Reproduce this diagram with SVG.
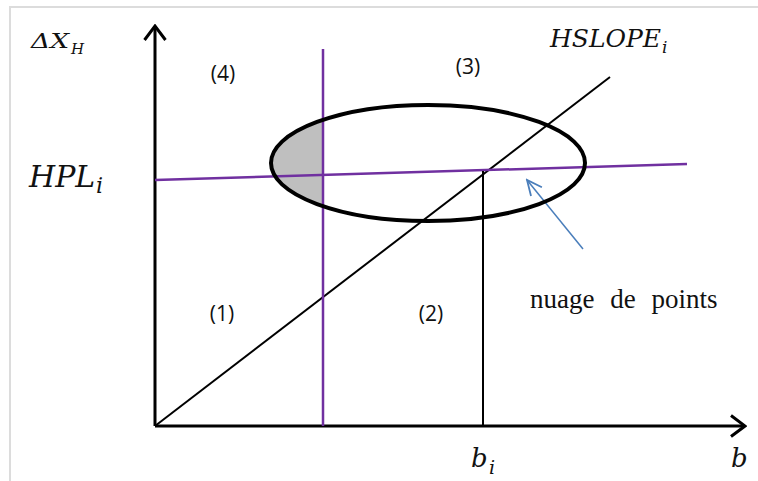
<svg xmlns="http://www.w3.org/2000/svg" width="758" height="481" viewBox="0 0 758 481">
<defs>
<style>
.ax{stroke:#000;stroke-width:3;fill:none}
.ln{stroke:#000;stroke-width:2;fill:none}
.pu{stroke:#7030a0;stroke-width:2.5;fill:none}
.m{font-family:"DejaVu Serif","Liberation Serif",serif;font-style:italic;fill:#111}
.lab{font-family:"Open Sans","Liberation Sans",sans-serif;font-size:21px;fill:#111;text-anchor:middle}
</style>
<marker id="oa" viewBox="0 0 18 24" refX="16" refY="12" markerWidth="18" markerHeight="24" markerUnits="userSpaceOnUse" orient="auto">
<path d="M2,1.5 L16,12 L2,22.5" fill="none" stroke="#000" stroke-width="3"/>
</marker>
<marker id="ba" viewBox="0 0 18 18" refX="16" refY="9" markerWidth="18" markerHeight="18" markerUnits="userSpaceOnUse" orient="auto">
<path d="M1,2 L16,9 L1,16" fill="none" stroke="#4a7ebb" stroke-width="1.8"/>
</marker>
<clipPath id="cl"><rect x="0" y="0" width="323" height="481"/></clipPath>
</defs>
<rect x="0" y="0" width="758" height="481" fill="#fff"/>
<path d="M10,481 V7 H758" fill="none" stroke="#dcdcdc" stroke-width="2"/>
<g id="shade">
<ellipse cx="428" cy="163" rx="157" ry="58" fill="#bfbfbf" clip-path="url(#cl)"/>
</g>
<g id="connectors">
<line class="ax" x1="155" y1="426" x2="155" y2="26" marker-end="url(#oa)"/>
<line class="ax" x1="155" y1="426" x2="745" y2="426" marker-end="url(#oa)"/>
<line class="ln" x1="155" y1="426" x2="610" y2="77"/>
<line class="pu" x1="323" y1="49" x2="323" y2="426"/>
<line class="pu" x1="155" y1="180" x2="687" y2="164"/>
<line class="ln" x1="483" y1="171" x2="483" y2="426"/>
<line x1="583" y1="249" x2="527" y2="180" stroke="#4a7ebb" stroke-width="1.5" marker-end="url(#ba)"/>
</g>
<g id="cloud">
<ellipse cx="428" cy="163" rx="157" ry="58" fill="none" stroke="#000" stroke-width="4"/>
</g>
<g id="labels">
<text class="m" x="31" y="48" font-size="21" textLength="38" lengthAdjust="spacingAndGlyphs">ΔX</text>
<text class="m" x="71" y="54" font-size="15">H</text>
<text class="m" x="29" y="187" font-size="30">HPL</text>
<text class="m" x="96" y="193" font-size="22">i</text>
<text class="m" x="550" y="47" font-size="25">HSLOPE</text>
<text class="m" x="662" y="53" font-size="17">i</text>
<text class="m" x="471" y="467" font-size="26">b</text>
<text class="m" x="489" y="474" font-size="19">i</text>
<text class="m" x="731" y="467" font-size="26">b</text>
<text class="lab" x="223" y="81">(4)</text>
<text class="lab" x="468" y="74">(3)</text>
<text class="lab" x="222" y="321">(1)</text>
<text class="lab" x="431" y="321">(2)</text>
<text x="530" y="308" font-family="Liberation Serif,serif" font-size="27" fill="#111" word-spacing="9">nuage de points</text>
</g>
</svg>
